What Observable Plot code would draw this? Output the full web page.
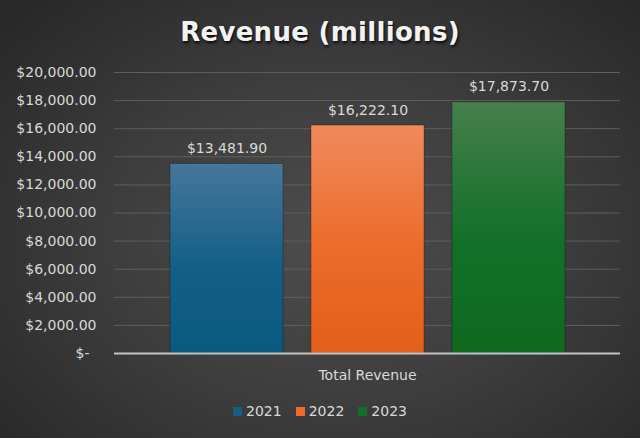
<!DOCTYPE html>
<html>
<head>
<meta charset="utf-8">
<script src="https://cdn.jsdelivr.net/npm/d3@7"></script>
<script src="https://cdn.jsdelivr.net/npm/@observablehq/plot@0.6"></script>
<style>
  html, body { margin: 0; padding: 0; background: #2a2a2a; }
  #chart {
    width: 640px; height: 438px; overflow: hidden; position: relative;
    background: radial-gradient(ellipse 70% 75% at 52% 55%, #4d4d4d 0%, #3d3d3d 50%, #282828 100%);
    font-family: "DejaVu Sans", sans-serif; color: #d9d9d9;
  }
  #title {
    height: 48px; padding-top: 8px; line-height: 48px; text-align: center;
    font-size: 26px; font-weight: bold; color: #f2f2f2; letter-spacing: 0.3px;
    text-shadow: 1px 2px 3px rgba(0,0,0,0.85);
  }
  #legend {
    display: flex; justify-content: center; align-items: center;
    padding-top: 10px; line-height: 20px; font-size: 14px; color: #d9d9d9;
  }
  #legend .item { display: flex; align-items: center; margin: 0 7px; }
  #legend .sw { width: 9px; height: 9px; margin-right: 4px; }
  svg { display: block; }
</style>
</head>
<body>
<div id="chart">
  <div id="title">Revenue (millions)</div>
  <div id="plot"></div>
  <div id="legend"></div>
</div>
<script>
const categories = ["Total Revenue"];
const years = ["2021", "2022", "2023"];
const revenue = [13481.9, 16222.1, 17873.7];
const yTicks = [0, 2000, 4000, 6000, 8000, 10000, 12000, 14000, 16000, 18000, 20000];
const colorTop = ["#47769a", "#f08a5c", "#467f4c"];
const colorMid = ["#135f86", "#ec6b29", "#12702a"];
const colorBottom = ["#0a5a80", "#e35f1a", "#0f6a1f"];

const data = years.map((y, i) => ({category: categories[0], year: y, value: revenue[i]}));

const money = d3.format(",.2f");
const yFormat = d => d === 0 ? "$-\u2002" : "$" + money(d);

const defsMark = () => {
  const defs = d3.create("svg:defs");
  years.forEach((y, i) => {
    const g = defs.append("linearGradient")
      .attr("id", "grad-" + y)
      .attr("x1", 0).attr("y1", 0).attr("x2", 0).attr("y2", 1);
    g.append("stop").attr("offset", "0%").attr("stop-color", colorTop[i]);
    g.append("stop").attr("offset", "55%").attr("stop-color", colorMid[i]);
    g.append("stop").attr("offset", "100%").attr("stop-color", colorBottom[i]);
  });
  return defs.node();
};

const chart = Plot.plot({
  width: 640,
  height: 335,
  marginLeft: 114,
  marginRight: 20,
  marginTop: 16,
  marginBottom: 38,
  style: {background: "transparent", color: "#d9d9d9", fontFamily: "DejaVu Sans, sans-serif", fontSize: "14px"},
  fx: {domain: categories, padding: 0, axis: "bottom", label: null, tickSize: 0, tickPadding: 17},
  x: {domain: years, axis: null, paddingInner: 0.2, paddingOuter: 0.39},
  y: {domain: [0, 20000], ticks: yTicks, tickFormat: yFormat, tickSize: 0, tickPadding: 18, label: null},
  color: {type: "identity"},
  marks: [
    defsMark,
    Plot.ruleY(yTicks.filter(d => d > 0), {stroke: "#5e5e5e", strokeWidth: 1}),
    Plot.barY(data, {fx: "category", x: "year", y: "value",
      fill: d => "url(#grad-" + d.year + ")",
      stroke: "rgba(0,0,0,0.35)", strokeWidth: 0.8}),
    Plot.ruleY([0], {stroke: "#c4c4c4", strokeWidth: 2}),
    Plot.text(data, {fx: "category", x: "year", y: "value",
      text: d => "$" + money(d.value), lineAnchor: "bottom", dy: -11,
      fill: "#d9d9d9", fontSize: 14})
  ]
});
document.getElementById("plot").appendChild(chart);

const legend = d3.select("#legend");
years.forEach((y, i) => {
  const item = legend.append("div").attr("class", "item");
  item.append("div").attr("class", "sw").style("background", colorMid[i]);
  item.append("span").text(y);
});
</script>
</body>
</html>
